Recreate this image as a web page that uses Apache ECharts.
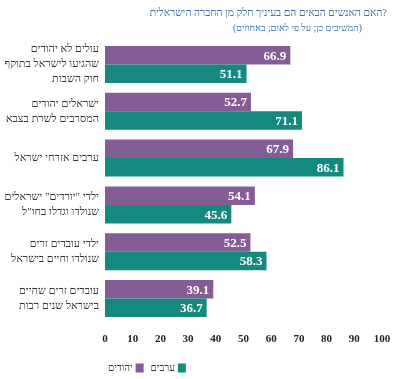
<!DOCTYPE html>
<html><head><meta charset="utf-8">
<script src="https://cdn.jsdelivr.net/npm/echarts@6/dist/echarts.min.js"></script>
<style>html,body{margin:0;padding:0;background:#fff}#c{width:398px;height:379px}</style>
</head><body><div id="c"></div>
<script>
const categories = [
  "עולים לא יהודים\nשהגיעו לישראל בתוקף\nחוק השבות",
  "ישראלים יהודים\nהמסרבים לשרת בצבא",
  "ערבים אזרחי ישראל",
  "ילדי \"יורדים\" ישראלים\nשנולדו וגדלו בחו\"ל",
  "ילדי עובדים זרים\nשנולדו וחיים בישראל",
  "עובדים זרים שחיים\nבישראל שנים רבות"
];
const jews = [66.9, 52.7, 67.9, 54.1, 52.5, 39.1];
const arabs = [51.1, 71.1, 86.1, 45.6, 58.3, 36.7];
const seriesNames = ["יהודים", "ערבים"];
const titleWords = "האם האנשים הבאים הם בעיניך חלק מן החברה הישראלית";
const titleMark = "?";
const subtitleText = "(המשיבים כן; על פי לאום; באחוזים)";

const font = "Liberation Serif";
const chart = echarts.init(document.getElementById('c'), null, {renderer: 'canvas'});
const lbl = {show: true, position: 'insideRight', color: '#fff', fontFamily: font, fontWeight: 'bold', fontSize: 13, offset: [1, 1], formatter: p => p.value.toFixed(1)};
const tStyle = {color: '#3a6ea5', fontFamily: font, fontSize: 10.5, fontWeight: 'normal'};
chart.setOption({
  animation: false,
  title: [
    {text: '{t|' + titleWords + '}{q|' + titleMark + '}', right: 6, top: 3,
     textStyle: Object.assign({}, tStyle, {rich: {t: tStyle, q: tStyle}})},
    {text: subtitleText, right: 31, top: 18,
     textStyle: Object.assign({}, tStyle, {fontSize: 9.5})}
  ],
  legend: {
    data: seriesNames, left: 103, top: 358, align: 'right', itemWidth: 8, itemHeight: 9, itemGap: 7,
    icon: 'rect', textStyle: {fontFamily: font, fontSize: 10, color: '#333', padding: [0, -2, 0, 0]}
  },
  grid: {left: 105, right: 16, top: 41, bottom: 57},
  xAxis: {
    type: 'value', min: 0, max: 100, interval: 10,
    axisLine: {show: false}, axisTick: {show: false}, splitLine: {show: false},
    axisLabel: {fontFamily: font, fontWeight: 'bold', fontSize: 11, color: '#222', margin: 12}
  },
  yAxis: {
    type: 'category', data: categories, inverse: true,
    axisLine: {show: false}, axisTick: {show: false},
    axisLabel: {fontFamily: font, fontSize: 11, color: '#333', lineHeight: 15, margin: 6, align: 'right'}
  },
  series: [
    {name: seriesNames[0], type: 'bar', data: jews, barWidth: 18.5, barGap: '0%', itemStyle: {color: '#845d96'}, label: lbl},
    {name: seriesNames[1], type: 'bar', data: arabs, barWidth: 18.5, barGap: '0%', itemStyle: {color: '#15897d'}, label: lbl}
  ]
});
</script></body></html>
